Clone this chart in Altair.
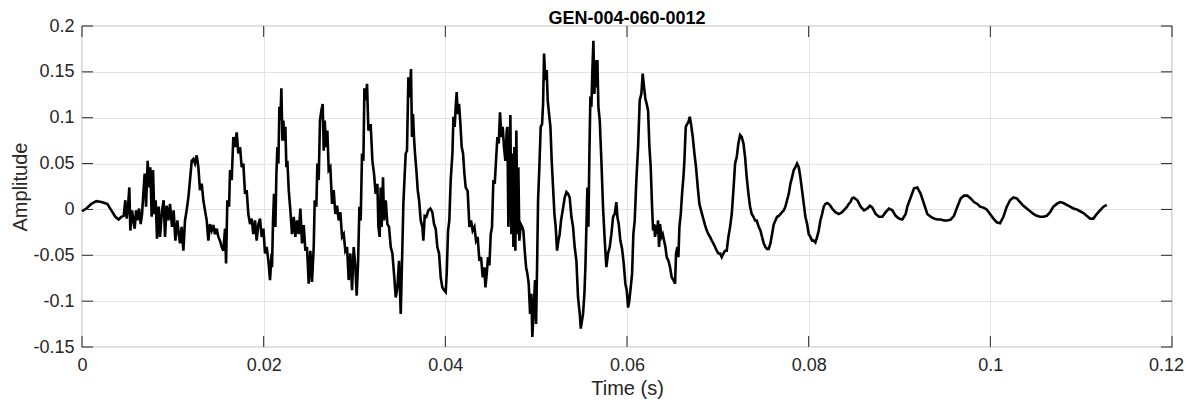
import altair as alt
import pandas as pd

# time in milliseconds, amplitude in thousandths
time_ms = [
    0.00, 0.48, 1.03, 1.58, 2.13, 2.79, 3.23, 3.67, 4.04, 4.33, 4.59, 4.77, 4.92, 5.07, 5.21, 5.32,
    5.51, 5.65, 5.80, 5.95, 6.09, 6.28, 6.46, 6.61, 6.75, 6.90, 7.05, 7.23, 7.38, 7.52, 7.67, 7.82,
    7.96, 8.11, 8.26, 8.44, 8.59, 8.81, 8.99, 9.14, 9.32, 9.51, 9.69, 9.91, 10.09, 10.28, 10.50,
    10.61, 10.79, 10.97, 11.16, 11.34, 11.52, 11.71, 11.89, 12.08, 12.26, 12.44, 12.63, 12.81, 12.99,
    13.18, 13.36, 13.54, 13.73, 13.91, 14.09, 14.28, 14.46, 14.64, 14.83, 15.01, 15.19, 15.38, 15.56,
    15.75, 15.86, 16.00, 16.19, 16.30, 16.48, 16.66, 16.85, 17.03, 17.21, 17.40, 17.58, 17.76, 17.95,
    18.13, 18.31, 18.50, 18.68, 18.86, 19.05, 19.23, 19.42, 19.60, 19.78, 19.97, 20.15, 20.33, 20.52,
    20.70, 20.88,
    20.92, 21.03, 21.14, 21.29, 21.40, 21.51, 21.62, 21.73, 21.84, 21.95, 22.06, 22.17, 22.28, 22.39,
    22.50, 22.61, 22.76, 22.94, 23.12, 23.31, 23.49, 23.67, 23.86, 24.04, 24.22, 24.41, 24.59, 24.77,
    24.96, 25.14, 25.32, 25.51, 25.62, 25.80, 25.91, 26.06, 26.20, 26.35, 26.50, 26.61, 26.72, 26.87,
    27.01, 27.16, 27.34, 27.53, 27.71, 27.89, 28.08, 28.26, 28.44, 28.63, 28.81, 28.99, 29.18, 29.36,
    29.54, 29.73, 29.91, 30.10, 30.24, 30.39, 30.54, 30.68, 30.83, 30.98, 31.09, 31.23, 31.38, 31.53,
    31.78, 31.97, 32.15, 32.33, 32.52, 32.63, 32.77, 32.88, 32.99, 33.14, 33.25, 33.44, 33.62, 33.80,
    33.99, 34.17, 34.35, 34.54, 34.72, 34.90, 35.09, 35.27, 35.38, 35.53, 35.64, 35.78, 35.93, 36.08,
    36.22, 36.33, 36.44, 36.55, 36.66, 36.81, 36.96, 37.11, 37.29, 37.47, 37.58, 37.73, 37.91, 38.13,
    38.35, 38.57, 38.76, 38.94, 39.12, 39.31, 39.49, 39.67, 39.86, 40.04, 40.15, 40.30, 40.44, 40.59,
    40.78, 40.89, 41.03, 41.14, 41.25, 41.36, 41.51, 41.66, 41.80, 41.95, 42.10, 42.24,
    42.46, 42.65, 42.83, 43.01, 43.20, 43.38, 43.56, 43.75, 43.93, 44.12, 44.30, 44.41, 44.56, 44.70,
    44.85, 45.00, 45.14, 45.29, 45.44, 45.58, 45.73, 45.88, 46.02, 46.17, 46.32, 46.46, 46.61, 46.76,
    46.83, 46.94, 47.05, 47.16, 47.27, 47.38, 47.49, 47.60, 47.71, 47.82, 47.93, 48.04, 48.15, 48.30,
    48.45, 48.59, 48.74, 48.89, 49.03, 49.18, 49.33, 49.47, 49.58, 49.73, 49.88, 49.99, 50.10, 50.21,
    50.35, 50.50, 50.65, 50.76, 50.87, 51.01, 51.16, 51.27, 51.42, 51.57, 51.71, 51.86, 52.01, 52.15,
    52.30, 52.45, 52.59, 52.74, 52.92,
    53.14, 53.33, 53.51, 53.69, 53.88, 54.06, 54.24, 54.43, 54.61, 54.80, 54.91, 55.05, 55.16, 55.31,
    55.42, 55.53, 55.64, 55.75, 55.86, 55.97, 56.08, 56.19, 56.30, 56.41, 56.52, 56.63, 56.74, 56.85,
    57.00, 57.18, 57.36, 57.55, 57.73, 57.91, 58.10, 58.28, 58.47, 58.65, 58.83, 58.94, 59.09, 59.27,
    59.46, 59.64, 59.82, 59.97, 60.12, 60.26, 60.41, 60.56, 60.70, 60.85, 61.03, 61.22, 61.40, 61.58,
    61.73, 61.88, 62.02, 62.17, 62.32, 62.47, 62.61, 62.76, 62.87, 62.98, 63.09, 63.20, 63.31, 63.42,
    63.53, 63.64, 63.79,
    63.93, 64.08, 64.23, 64.37, 64.56, 64.74, 64.92, 65.11, 65.29, 65.40, 65.55, 65.66, 65.77, 65.92,
    66.06, 66.21, 66.32, 66.47, 66.61, 66.76, 66.91, 67.05, 67.24, 67.42, 67.60, 67.79, 67.97, 68.15,
    68.34, 68.59, 68.78, 68.96, 69.15, 69.33, 69.51, 69.70, 69.88, 70.06, 70.25, 70.43, 70.61, 70.80,
    70.98, 71.16, 71.35, 71.53, 71.71, 71.90, 72.08, 72.26, 72.45, 72.63, 72.82, 73.00, 73.18, 73.37,
    73.55, 73.73, 73.92, 74.10, 74.28,
    74.50, 74.69, 74.87, 75.05, 75.24, 75.42, 75.60, 75.79, 75.97, 76.16, 76.34, 76.52, 76.71, 76.89,
    77.07, 77.26, 77.44, 77.62, 77.81, 77.99, 78.17, 78.36, 78.54, 78.72, 78.91, 79.09, 79.27, 79.46,
    79.64, 79.83, 80.01, 80.19, 80.38, 80.56, 80.74, 80.93, 81.11, 81.29, 81.48, 81.66, 81.84, 82.03,
    82.21, 82.39, 82.58, 82.76, 82.94, 83.13, 83.31, 83.50, 83.68, 83.86, 84.05, 84.23, 84.41, 84.60,
    84.78, 84.96,
    85.36, 85.72, 86.09, 86.46, 86.75, 87.01, 87.38, 87.74, 88.11, 88.48, 88.84, 89.21, 89.58, 89.94,
    90.31, 90.68, 90.86, 91.23, 91.60, 91.96, 92.33, 92.70, 93.06, 93.43, 93.80, 94.17, 94.53, 94.90,
    95.27, 95.63, 96.00, 96.37, 96.73, 97.10, 97.47, 97.84, 98.20, 98.57,
    98.87, 99.24, 99.60, 99.97, 100.34, 100.71, 101.07, 101.44, 101.81, 102.17, 102.54, 102.91, 103.27,
    103.64, 104.01, 104.38, 104.74, 105.11, 105.48, 105.84, 106.21, 106.58, 106.94, 107.31, 107.68,
    108.05, 108.41, 108.78, 109.15, 109.51, 109.88, 110.25, 110.61, 110.98, 111.35, 111.71, 112.08,
    112.45, 112.82,
]

amp_milli = [
    -2, 1, 6, 9, 8, 6, -1, -8, -11, -8, -7, 10, -10, 3, 24, -23,
    -1, -12, -21, -1, -12, 1, -16, -5, 17, 39, 3, 53, 24, 46, -8, 43,
    -5, 10, -32, 3, -30, -1, 10, -30, 4, -12, 6, -19, -1, -34, -12,
    -23, -37, -19, -45, -12, -1, 13, 32, 53, 55, 50, 59, 46, 21,
    28, 10, -1, -12, -34, -16, -23, -17, -27, -21, -30, -34, -41, -45,
    -21, -59, 10, 3, 43, 32, 79, 68, 84, 61, 68, 46, 50, 17,
    21, -5, -16, -10, -27, -12, -34, -16, -10, -30, -21, -48, -41, -56,
    -77, -48,
    -63, -12, 17, -19, 39, 68, 50, 112, 97, 132, 75, 97, 75, 90,
    46, 53, 21, -1, -27, -8, -30, -12, -27, 1, -37, -17, -45, -41,
    -81, -45, -79, -41, 10, 3, 50, 32, 97, 108, 115, 64, 97, 68,
    86, 43, 46, 6, 21, -5, 4, -12, -3, -30, -27, -45, -41, -77,
    -48, -88, -41, -63, -94, -59, 3, -12, 61, 53, 132, 119, 137, 86,
    93, 53, 39, 17, 28, -19, -30, 24, -19, 35, -12, 10, -16, -19,
    -41, -48, -70, -96, -85, -56, -114, -41, 6, 39, 61, 64, 144, 122,
    153, 79, 104, 79, 61, 43, 21, 10, -12, -19, -34, -7, -8, -1,
    1, -3, -16, -21, -41, -48, -74, -85, -88, -90, -70, -23, -12, 32,
    61, 101, 90, 112, 128, 104, 115, 93, 68, 61, 39, 24,
    20, -19, -12, -23, -19, -34, -30, -56, -52, -74, -63, -85, -70, -52,
    -61, -27, -19, 32, 28, 53, 79, 72, 106, 79, 90, 68, 53, 86,
    90, -19, 24, 103, -27, 61, -41, 68, -45, 86, -27, 46, -34, -16,
    -19, -23, -45, -63, -70, -81, -114, -92, -139, -107, -77, -125, -63, 10,
    46, 90, 93, 115, 170, 141, 152, 119, 104, 90, 53, 24, -5, -19,
    -45, -34, -27, -12, -1,
    13, 19, 17, 13, -8, -19, -41, -56, -96, -114, -130, -121, -114, -92,
    -63, -19, 24, -19, 61, 123, 112, 152, 184, 126, 163, 133, 163, 112,
    97, 53, 3, -34, -63, -48, -41, -27, -8, -5, 8, -8, -16, -34,
    -43, -59, -81, -88, -107, -99, -85, -70, -27, -12, 32, 68, 119, 126,
    148, 133, 121, 115, 108, 68, 46, 3, -23, -16, -30, -17, -27, -12,
    -41, -16, -30,
    -27, -34, -41, -52, -56, -63, -74, -77, -81, -48, -41, -52, -19, -5,
    17, 35, 53, 90, 93, 95, 101, 93, 79, 61, 46, 24, 6, -1,
    -8, -17, -23, -27, -30, -34, -37, -41, -45, -48, -48, -52, -48, -45,
    -45, -30, -19, -5, 20, 50, 57, 72, 81, 79, 72, 57, 35, 17,
    3, -5, -8, -12, -12,
    -19, -23, -30, -37, -41, -43, -43, -37, -27, -16, -12, -8, -7, -5,
    -3, -1, 3, 10, 17, 28, 35, 43, 46, 50, 46, 35, 21, 6,
    -8, -16, -27, -30, -34, -34, -36, -30, -23, -12, -5, 3, 6, 7,
    6, 4, 1, -1, -3, -4, -5, -4, -3, -1, 1, 3, 6, 8,
    12, 13,
    10, 3, -1, 1, 4, 2, -5, -8, -8, -3, 1, -1, -7, -10,
    -11, -5, 3, 13, 23, 24, 17, 6, -5, -8, -10, -11, -11, -12,
    -12, -11, -7, 3, 12, 15, 15, 12, 8, 6,
    3, 2, 0, -5, -10, -14, -15, -8, 3, 10, 13, 12, 8,
    4, 1, -2, -5, -7, -8, -8, -7, -3, 3, 6, 8,
    7, 5, 3, 1, 0, -2, -4, -7, -10, -10, -5, -1,
    3, 5,
]

x_ticks = [0, 0.02, 0.04, 0.06, 0.08, 0.1, 0.12]
y_ticks = [-0.15, -0.1, -0.05, 0, 0.05, 0.1, 0.15, 0.2]
title_text = ["GEN-004-060-0012"]

W, H = 1090, 321
FONT = "Liberation Sans"

signal = pd.DataFrame({
    "t": [v / 1000 for v in time_ms],
    "a": [v / 1000 for v in amp_milli],
})
xt = pd.DataFrame({"tick": x_ticks})
yt = pd.DataFrame({"tick": y_ticks})
tt = pd.DataFrame({"label": title_text})

x_scale = alt.Scale(domain=[0, 0.12], nice=False, zero=False)
y_scale = alt.Scale(domain=[-0.15, 0.2], nice=False, zero=False)

line = alt.Chart(signal).mark_line(color="black", strokeWidth=2.6).encode(
    x=alt.X("t:Q", scale=x_scale, title="Time (s)",
            axis=alt.Axis(values=x_ticks, labelExpr="'' + datum.value", grid=True,
                          ticks=False, domain=False, labelPadding=9, labelFlush=False,
                          labelOffset={"condition": {"test": "datum.value >= 0.12", "value": -6},
                                       "value": 0},
                          titleY=41, titleBaseline="middle")),
    y=alt.Y("a:Q", scale=y_scale, title="Amplitude",
            axis=alt.Axis(values=y_ticks, labelExpr="'' + datum.value", grid=True,
                          ticks=False, domain=False, labelPadding=8, labelFlush=False,
                          titleX=-62, titleY=H / 2, titleBaseline="middle",
                          titleAngle=-90)),
)

tick_color = "#262626"
xb = alt.Chart(xt).mark_rule(color=tick_color, strokeWidth=1).encode(
    x=alt.X("tick:Q", scale=x_scale), y=alt.value(H), y2=alt.value(H - 11))
xtop = alt.Chart(xt).mark_rule(color=tick_color, strokeWidth=1).encode(
    x=alt.X("tick:Q", scale=x_scale), y=alt.value(0), y2=alt.value(11))
yl = alt.Chart(yt).mark_rule(color=tick_color, strokeWidth=1).encode(
    y=alt.Y("tick:Q", scale=y_scale), x=alt.value(0), x2=alt.value(11))
yr = alt.Chart(yt).mark_rule(color=tick_color, strokeWidth=1).encode(
    y=alt.Y("tick:Q", scale=y_scale), x=alt.value(W), x2=alt.value(W - 11))

title = alt.Chart(tt).mark_text(
    font=FONT, fontSize=18, fontWeight="bold", color="#000000",
    align="center", baseline="alphabetic",
).encode(text="label:N", x=alt.value(W / 2), y=alt.value(-2))

chart = alt.layer(line, xb, xtop, yl, yr, title).properties(
    width=W, height=H,
    autosize=alt.AutoSizeParams(type="none"),
    padding={"left": 74, "top": 18, "right": 13, "bottom": 57},
).configure_view(
    stroke="#808080", strokeWidth=1.2
).configure_axis(
    labelFont=FONT, labelFontSize=18, labelColor="#262626",
    titleFont=FONT, titleFontSize=20, titleColor="#262626", titleFontWeight="normal",
    gridColor="#e3e3e3", gridWidth=1, gridOpacity=1,
)

chart.save("out.html", embed_options={"renderer": "svg", "actions": False})
